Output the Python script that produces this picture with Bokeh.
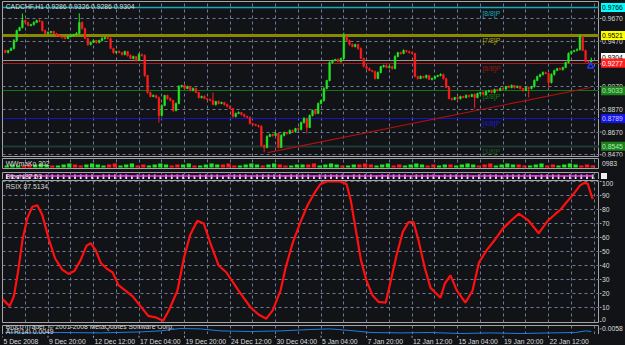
from bokeh.plotting import figure
from bokeh.layouts import column, row
from bokeh.models import Range1d, FixedTicker, Label, ColumnDataSource, Grid
from bokeh.embed import file_html
from bokeh.resources import INLINE
from bokeh.core.properties import value

# ---------------- data ----------------
title_text = "CADCHF,H1  0.9286 0.9326 0.9286 0.9304"

time_ticks_h = [-2, 62, 126, 190, 254, 318, 382, 446, 510, 574, 638, 702, 766]
time_labels = ["5 Dec 2008", "9 Dec 20:00", "12 Dec 12:00", "17 Dec 04:00", "19 Dec 20:00",
               "24 Dec 12:00", "30 Dec 04:00", "5 Jan 04:00", "7 Jan 20:00", "12 Jan 12:00",
               "15 Jan 04:00", "19 Jan 20:00", "22 Jan 12:00"]
grid_h = [-2, 30, 62, 94, 126, 158, 190, 222, 254, 286, 318, 350, 382, 414, 446, 478, 510,
          542, 574, 606, 638, 670, 702, 734, 766, 798, 830]

price_ticks = [0.9670, 0.9470, 0.9270, 0.9070, 0.8870, 0.8670, 0.8470]

first_open = 0.9388
closes = [
 0.9370, 0.9388, 0.9406, 0.9476, 0.9564, 0.9591, 0.9652, 0.9635, 0.9608, 0.9617,
 0.9635, 0.9652, 0.9644, 0.9564, 0.9538, 0.9547, 0.9555, 0.9538, 0.9520, 0.9511,
 0.9503, 0.9494, 0.9511, 0.9520, 0.9529, 0.9538, 0.9635, 0.9582, 0.9494, 0.9441,
 0.9459, 0.9476, 0.9459, 0.9476, 0.9494, 0.9503, 0.9494, 0.9406, 0.9370, 0.9379,
 0.9370, 0.9353, 0.9379, 0.9344, 0.9318, 0.9335, 0.9300, 0.9353, 0.9344, 0.9168,
 0.9018, 0.8983, 0.8992, 0.8974, 0.8815, 0.8903, 0.8992, 0.8965, 0.8948, 0.8859,
 0.8921, 0.9071, 0.9080, 0.9053, 0.9071, 0.9036, 0.9053, 0.9018, 0.8974, 0.8983,
 0.8965, 0.8956, 0.8948, 0.8912, 0.8939, 0.8921, 0.8930, 0.8912, 0.8895, 0.8877,
 0.8807, 0.8833, 0.8842, 0.8824, 0.8807, 0.8798, 0.8745, 0.8736, 0.8727, 0.8719,
 0.8551, 0.8534, 0.8631, 0.8648, 0.8639, 0.8657, 0.8534, 0.8639, 0.8666, 0.8657,
 0.8683, 0.8674, 0.8701, 0.8692, 0.8754, 0.8789, 0.8710, 0.8815, 0.8859, 0.8833,
 0.8921, 0.8948, 0.9053, 0.9124, 0.9282, 0.9300, 0.9309, 0.9291, 0.9318, 0.9511,
 0.9476, 0.9441, 0.9423, 0.9441, 0.9406, 0.9318, 0.9247, 0.9229, 0.9212, 0.9203,
 0.9141, 0.9194, 0.9247, 0.9256, 0.9238, 0.9247, 0.9229, 0.9335, 0.9370, 0.9362,
 0.9388, 0.9379, 0.9370, 0.9362, 0.9159, 0.9141, 0.9159, 0.9150, 0.9168, 0.9133,
 0.9141, 0.9159, 0.9168, 0.9177, 0.9141, 0.9062, 0.8965, 0.8956, 0.8974, 0.8965,
 0.8983, 0.8974, 0.8992, 0.8983, 0.9000, 0.8974, 0.9009, 0.9018, 0.9000, 0.9027,
 0.9036, 0.9018, 0.9044, 0.9036, 0.9053, 0.9048, 0.9071, 0.9062, 0.9080, 0.9062,
 0.9071, 0.9053, 0.9036, 0.9062, 0.9053, 0.9071, 0.9124, 0.9159, 0.9177, 0.9194,
 0.9185, 0.9106, 0.9177, 0.9212, 0.9229, 0.9221, 0.9238, 0.9282, 0.9362, 0.9379,
 0.9388, 0.9397, 0.9511, 0.9388, 0.9291, 0.9286, 0.9304]

up_pips = [
 8, 6, 10, 12, 8, 6, 62, 10, 8, 6,
 12, 8, 10, 6, 8, 10, 6, 8, 6, 10,
 8, 6, 10, 8, 6, 12, 80, 10, 8, 6,
 8, 10, 6, 8, 12, 6, 8, 10, 6, 8,
 10, 6, 8, 6, 10, 8, 6, 12, 8, 10,
 6, 8, 10, 6, 8, 12, 6, 8, 10, 6,
 8, 12, 6, 10, 8, 6, 10, 8, 6, 8,
 10, 6, 8, 70, 6, 10, 8, 6, 8, 10,
 6, 8, 10, 6, 8, 6, 10, 8, 6, 8,
 12, 8, 10, 6, 8, 10, 6, 12, 8, 6,
 10, 8, 6, 10, 8, 12, 6, 10, 8, 6,
 10, 8, 12, 6, 10, 8, 6, 10, 8, 35,
 10, 8, 10, 6, 8, 10, 6, 8, 10, 6,
 8, 10, 6, 8, 10, 6, 8, 12, 6, 8,
 10, 6, 8, 10, 6, 8, 10, 6, 8, 6,
 10, 8, 6, 10, 8, 6, 10, 8, 6, 10,
 8, 6, 10, 8, 6, 10, 8, 6, 10, 8,
 6, 10, 8, 6, 10, 8, 6, 10, 8, 6,
 10, 8, 6, 10, 8, 6, 10, 8, 6, 10,
 8, 6, 10, 8, 6, 10, 8, 6, 10, 8,
 6, 10, 18, 6, 8, 10, 22]

dn_pips = [
 6, 8, 6, 10, 8, 6, 10, 8, 6, 8,
 10, 6, 8, 10, 6, 8, 10, 6, 8, 6,
 10, 8, 6, 8, 10, 6, 8, 10, 6, 12,
 8, 6, 10, 8, 6, 10, 8, 6, 12, 8,
 6, 10, 8, 10, 6, 8, 10, 6, 8, 12,
 10, 8, 6, 10, 62, 8, 6, 10, 8, 12,
 8, 6, 10, 8, 6, 10, 8, 6, 10, 8,
 6, 10, 8, 6, 10, 8, 6, 10, 8, 6,
 10, 8, 6, 10, 8, 6, 10, 8, 6, 10,
 10, 44, 8, 6, 10, 8, 10, 6, 8, 10,
 6, 8, 10, 6, 8, 10, 53, 6, 8, 10,
 6, 8, 10, 6, 8, 10, 6, 8, 10, 6,
 8, 10, 6, 8, 10, 6, 8, 10, 6, 8,
 10, 6, 8, 10, 6, 8, 10, 6, 8, 10,
 6, 8, 10, 6, 8, 10, 6, 8, 10, 6,
 8, 10, 6, 8, 10, 6, 8, 10, 6, 8,
 10, 6, 8, 10, 6, 97, 8, 10, 6, 8,
 10, 6, 8, 10, 6, 8, 10, 6, 8, 10,
 6, 8, 10, 6, 79, 8, 10, 6, 8, 10,
 6, 53, 8, 10, 6, 8, 10, 6, 8, 10,
 6, 8, 10, 6, 8, 10, 0]

mm_levels = [0.9766, 0.9521, 0.9277, 0.9033, 0.8789, 0.8545]
mm_names = ["[8/8]P", "[7/8]P", "[6/8]P", "[5/8]P", "[4/8]P", "[3/8]P"]
mm_line_colors = ["#18a8ba", "#8a8a00", "#b01818", "#107a10", "#1414d0", "#1e3c36"]
mm_line_widths = [1.5, 3, 1.2, 1.2, 1.2, 2]
mm_text_colors = ["#18a8ba", "#a8a800", "#a01414", "#128212", "#1a1ad8", "#1a5a1a"]
mm_box_colors = ["#00ffff", "#ffff00", "#ff2020", "#1f7f1f", "#1414e8", "#1f7f1f"]
mm_box_text = ["#000000", "#000000", "#ffffff", "#a8f0a8", "#c8c8ff", "#a8f0a8"]
mm_text_h = 673

bid_price = 0.9304
trend_h = [371, 825]
trend_p = [0.8489, 0.9062]
arrow_h = [825]
arrow_p = [0.9250]

osc_a = [2, 3, 2, -2, -3, 3, 4, 3, -2, 2, 3, 4, -3, -2, 3, 4, 3, 2, -3, -4,
         2, 3, 4, -2, -3, 2, 3, 4, 3, -2, -3, 3, 4, -2, 2, 3, 4, 3, -3, -4,
         -2, 2, 3, 4, 3, -2, 3, 4, -3, -2, 2, 3, 3, -3, -4, 2, 3, 4, 3, -2,
         2, 3, -3, -4, -3, 2, 3, 4, -2, -3, 2, 3, 4, 3, -2, -3, 2, 3, -3, 2,
         3, 4, 3, -2, -3, -4, 2, 3, 4, 3, -3, -2, 2, 3, 4, -2, -3, 2, 3, 4,
         3, -2, -3, -2]
osc_b_bars = [6, 6, 5, 6, 6, 6, 5, 6, 6, 6, 6, 5, 6, 6, 6, 6, 5, 6, 6, 6,
              6, 6, 5, 6, 6, 6, 6, 5, 6, 6, 6, 6, 6, 5, 6, 6, 6, 6, 5, 6,
              6, 6, 6, 5, 6, 6, 6, 6, 6, 5, 6, 6, 6, 6, 5, 6, 6, 6, 6, 6,
              5, 6, 6, 6, 6, 5, 6, 6, 6, 6, 6, 5, 6, 6, 6, 6, 5, 6, 6, 6,
              6, 6, 5, 6, 6, 6, 6, 5, 6, 6, 6, 6, 6, 5, 6, 6, 6, 6, 5, 6,
              6, 6, 6, 6]
osc_b_line = [4.5, 4.6, 4.4, 4.5, 4.7, 4.5, 4.4, 4.6, 4.5, 4.5, 4.6, 4.4, 4.5, 4.7, 4.6, 4.4,
              4.5, 4.6, 4.5, 4.4, 4.6, 4.7, 4.5, 4.4, 4.5, 4.6, 4.5, 4.4, 4.6, 4.5, 4.7, 4.6,
              4.5, 4.4, 4.5, 4.6, 4.5, 4.4, 4.6, 4.7, 4.5, 4.4, 4.5, 4.6, 4.5, 4.5, 4.6, 4.4,
              4.5, 4.7, 4.6, 4.4, 4.5, 4.6, 4.5, 4.4, 4.6, 4.7, 4.5, 4.4, 4.5, 4.6, 4.5, 4.4,
              4.6, 4.5, 4.7, 4.6, 4.5, 4.4, 4.5, 4.6, 4.5, 4.4, 4.6, 4.7, 4.5, 4.4, 4.5, 4.6,
              4.5, 4.5, 4.6, 4.4, 4.5, 4.7, 4.6, 4.4, 4.5, 4.6, 4.5, 4.4, 4.6, 4.7, 4.5, 4.4,
              4.5, 4.6, 4.5, 4.4, 4.6, 4.5, 4.7, 4.6]
osc_b_marker = 4.0

rsix_h = [-2, 2, 8, 14, 20, 26, 33, 40, 47, 54, 63, 72, 82, 91, 99, 108, 116, 122, 129, 136,
          144, 153, 161, 171, 181, 192, 203, 213, 224, 232, 244, 253, 262, 272, 281, 291, 302,
          313, 330, 347, 358, 369, 378, 389, 396, 406, 417, 427, 437, 445, 454, 462, 473, 482,
          488, 495, 502, 510, 518, 527, 537, 544, 552, 561, 569, 576, 583, 592, 600, 614, 620,
          628, 637, 649, 659, 668, 679, 690, 701, 713, 724, 738, 752, 765, 776, 783, 791, 801,
          810, 816, 821, 825, 828]
rsix_v = [16, 14, 11, 18, 36, 58, 74, 82, 83, 76, 59, 45, 37, 34, 36, 44, 54, 56, 51, 42,
          38, 35, 26, 22, 18, 11, 4, 3, 0.5, 8, 22, 45, 62, 72, 70, 55, 40,
          35, 22, 10, 5, 2, 8, 22, 38, 56, 71, 83, 92, 98, 100, 100, 100, 98,
          86, 65, 44, 29, 19, 14, 13.5, 29, 47, 64, 71, 71, 58, 38, 24, 17, 27,
          33, 22, 13.5, 22, 42, 51, 58, 66, 72, 77, 72, 63, 72, 77, 80, 85, 91,
          97, 99, 98.5, 92, 87.5]
rsix_text = "RSIX 87.5134"
rsix_ticks = [0, 10, 20, 30, 40, 50, 60, 70, 80, 90, 100]

atr_h = [2, 37, 80, 136, 192, 220, 248, 276, 305, 347, 389, 431, 459, 487, 516, 558, 600, 642,
         684, 727, 769, 804, 818, 826]
atr_v = [0.0040, 0.0038, 0.0040, 0.0038, 0.0043, 0.0048, 0.0060, 0.0058, 0.0048, 0.0045,
         0.0048, 0.0055, 0.0058, 0.0050, 0.0040, 0.0038, 0.0040, 0.0035, 0.0038, 0.0035,
         0.0038, 0.0040, 0.0048, 0.0045]
atr_tick = 0.0058
copyright_text = "Broco Trader, © 2001-2008 MetaQuotes Software Corp."
atr_text = "ATR(14) 0.0049"
osc_a_text = "WWmaKo 202"
osc_a_tick = "0983"
osc_b_text = "Stoch 87.53"

# ---------------- style ----------------
PW = 599       # width of the chart panels (frame 2..599)
SW = 26        # width of the right price-scale strip
BG = "#121316"
FONT = "Liberation Sans"
FS = "6.8px"
TXT = "#dcdcdc"
GRIDC = "#6e7998"
EDGE = "#a4a4a4"
BULL = "#22e622"
BEAR = "#ff1c1c"
PX_PRICE = 0.000881   # price per screen pixel in the main panel

xr = Range1d(-2, 837.6)


def make_panel(h, yr, ygrid_ticks=None, top=1, bottom=1):
    p = figure(width=PW, height=h, x_range=xr, y_range=yr, output_backend="svg",
               toolbar_location=None, x_axis_location=None, y_axis_location=None,
               min_border_left=2, min_border_right=0, min_border_top=top,
               min_border_bottom=bottom, background_fill_color=BG, border_fill_color=BG,
               outline_line_color=EDGE, outline_line_width=1)
    p.xgrid.visible = False
    p.ygrid.visible = False
    p.add_layout(Grid(dimension=0, ticker=FixedTicker(ticks=grid_h), grid_line_color=GRIDC,
                      grid_line_dash="3 3", grid_line_width=1))
    if ygrid_ticks:
        p.add_layout(Grid(dimension=1, ticker=FixedTicker(ticks=ygrid_ticks),
                          grid_line_color=GRIDC, grid_line_dash="3 3", grid_line_width=1))
    return p


def make_side(h, yr, ticks=(), fmt="%g", top=1, bottom=1, offsets=None):
    s = figure(width=SW, height=h, x_range=Range1d(0, SW), y_range=yr, output_backend="svg",
               toolbar_location=None, x_axis_location=None, y_axis_location=None,
               min_border_left=0, min_border_right=0, min_border_top=top,
               min_border_bottom=bottom, background_fill_color=BG, border_fill_color=BG,
               outline_line_color=None)
    s.xgrid.visible = False
    s.ygrid.visible = False
    if ticks:
        s.segment(x0=[0] * len(ticks), y0=list(ticks), x1=[2] * len(ticks), y1=list(ticks),
                  line_color=EDGE, line_width=1)
        s.text(x=[2.5] * len(ticks), y=list(ticks), text=[fmt % t for t in ticks],
               text_color=TXT, text_font=value(FONT), text_font_size=value(FS),
               text_baseline="middle", text_align="left",
               y_offset=offsets if offsets is not None else 0)
    return s


def side_boxes(s, ys, labels, bgs, fgs):
    s.rect(x=[13.5] * len(ys), y=ys, width=24, height=9, height_units="screen",
           fill_color=bgs, line_color=None)
    s.text(x=[2.5] * len(ys), y=ys, text=labels, text_color=fgs, text_font=value(FONT),
           text_font_size=value(FS), text_baseline="middle", text_align="left")


def add_text(p, x, y, txt, color=TXT):
    p.add_layout(Label(x=x, y=y, text=txt, text_font=FONT, text_font_size=FS,
                       text_color=color, text_baseline="middle", text_align="left"))


# ---------------- main price panel ----------------
yr_main = Range1d(0.84542, 0.98198)
main = make_panel(157, yr_main, ygrid_ticks=price_ticks)
main.hspan(y=mm_levels, line_color=mm_line_colors, line_width=mm_line_widths)
main.hspan(y=[bid_price], line_color="#9a9a9a", line_width=1)
main.line(trend_h, trend_p, line_color="#b01010", line_width=1.2)
main.text(x=[mm_text_h] * len(mm_levels), y=mm_levels, text=mm_names, text_color=mm_text_colors,
          text_font=value(FONT), text_font_size=value(FS), text_baseline="top", y_offset=2)

opens = [first_open] + closes[:-1]
hs = [4 * i + 2 for i in range(len(closes))]
tops, bots, his, los, cols = [], [], [], [], []
for o, c, u, d in zip(opens, closes, up_pips, dn_pips):
    tops.append(max(o, c))
    bots.append(min(o, c))
    his.append(max(o, c) + u * 0.0001)
    los.append(min(o, c) - d * 0.0001)
    cols.append(BULL if c >= o else BEAR)
src = ColumnDataSource(dict(h=hs, top=tops, bot=bots, hi=his, lo=los, col=cols))
main.segment(x0="h", y0="lo", x1="h", y1="hi", line_color="col", line_width=1, source=src)
main.vbar(x="h", width=2.4, top="top", bottom="bot", fill_color="col", line_color="col",
          line_width=0.5, source=src)
main.scatter(arrow_h, arrow_p, marker="triangle", size=6, fill_color=None,
             line_color="#2838ff", line_width=1.5)
add_text(main, 2.5, 0.9777, title_text)

main_side = make_side(157, yr_main, ticks=price_ticks, fmt="%.4f")
box_y = mm_levels + [bid_price + 2.5 * PX_PRICE]
box_lbl = ["%.4f" % v for v in mm_levels] + ["%.4f" % bid_price]
side_boxes(main_side, box_y, box_lbl, mm_box_colors + ["#ffffff"], mm_box_text + ["#000000"])
side_boxes(main_side, [mm_levels[2]], ["%.4f" % mm_levels[2]], ["#ff2020"], ["#ffffff"])

# ---------------- oscillator A ----------------
yr_a = Range1d(-1, 9)
pa = make_panel(12, yr_a)
a_h = [8 * j + 4 for j in range(len(osc_a))]
pa.vbar(x=a_h, width=6, top=[abs(v) for v in osc_a], bottom=0,
        fill_color=[BULL if v > 0 else BEAR for v in osc_a], line_color=None)
add_text(pa, 2.5, 4.5, osc_a_text)
pa_side = make_side(12, yr_a)
pa_side.text(x=[2.5], y=[4.5], text=[osc_a_tick], text_color=TXT, text_font=value(FONT),
             text_font_size=value(FS), text_baseline="middle")

# ---------------- oscillator B ----------------
yr_b = Range1d(0, 8)
pb = make_panel(10, yr_b)
b_h = [8 * j + 4 for j in range(len(osc_b_bars))]
pb.vbar(x=b_h, width=2.5, top=osc_b_bars, bottom=1, fill_color="#e8e8e8", line_color=None)
pb.line(b_h, osc_b_line, line_color="#ff30ff", line_width=1.5)
add_text(pb, 2.5, 4.5, osc_b_text)
pb_side = make_side(10, yr_b)
pb_side.rect(x=[4.5], y=[osc_b_marker], width=6, height=7, height_units="screen",
             fill_color="#f0f0f0", line_color=None)

# ---------------- RSIX ----------------
yr_r = Range1d(-0.714, 100.71)
pr = make_panel(144, yr_r, ygrid_ticks=rsix_ticks[1:])
pr.line(rsix_h, rsix_v, line_color="#ff1010", line_width=2.2)
add_text(pr, 2.5, 96.4, rsix_text)
r_off = [-2.5, 0, 0, 0, 0, 0, 0, 0, 0, 0, 2]
pr_side = make_side(144, yr_r, ticks=rsix_ticks, fmt="%d", offsets=r_off)

# ---------------- ATR ----------------
yr_t = Range1d(0.0030, 0.0075)
pt = make_panel(11, yr_t)
pt.line(atr_h, atr_v, line_color="#1e7fe0", line_width=1)
add_text(pt, 2.5, 0.0068, copyright_text)
add_text(pt, 2.5, 0.0046, atr_text)
pt_side = make_side(11, yr_t, ticks=[atr_tick], fmt="%.4f")

# ---------------- time scale ----------------
yr_x = Range1d(0, 1)
px_ = figure(width=PW, height=11, x_range=xr, y_range=yr_x, output_backend="svg",
             toolbar_location=None, x_axis_location=None, y_axis_location=None,
             min_border_left=2, min_border_right=0, min_border_top=0, min_border_bottom=0,
             background_fill_color=BG, border_fill_color=BG, outline_line_color=None)
px_.xgrid.visible = False
px_.ygrid.visible = False
px_.segment(x0=time_ticks_h, y0=[1] * len(time_ticks_h), x1=time_ticks_h,
            y1=[0.8] * len(time_ticks_h), line_color=EDGE)
px_.text(x=time_ticks_h, y=[0.45] * len(time_ticks_h), text=time_labels, text_color=TXT,
         text_font=value(FONT), text_font_size=value(FS), text_baseline="middle",
         text_align="left", x_offset=1)
px_side = make_side(11, yr_x, top=0, bottom=0)

layout = column(row(main, main_side, spacing=0), row(pa, pa_side, spacing=0),
                row(pb, pb_side, spacing=0), row(pr, pr_side, spacing=0),
                row(pt, pt_side, spacing=0), row(px_, px_side, spacing=0),
                spacing=0, background=BG)
open("out.html", "w").write(file_html(layout, INLINE))
